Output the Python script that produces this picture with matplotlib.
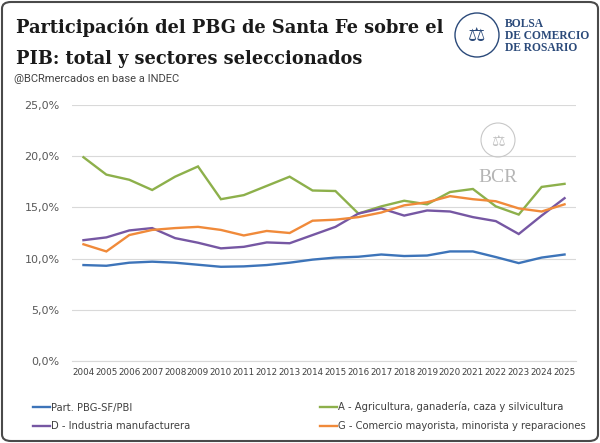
import numpy as np
import matplotlib.pyplot as plt
from matplotlib.patches import FancyBboxPatch, Circle
from matplotlib.ticker import FuncFormatter

years = [str(y) for y in range(2004, 2026)]

# participación en el PIB (%)
total = [9.37, 9.3, 9.6, 9.7, 9.6, 9.4, 9.2, 9.24, 9.37, 9.6, 9.9,
         10.1, 10.18, 10.4, 10.25, 10.3, 10.7, 10.7, 10.15, 9.56, 10.1, 10.4]
agro = [19.9, 18.2, 17.7, 16.7, 18.0, 19.0, 15.8, 16.2, 17.1, 18.0, 16.65,
        16.6, 14.4, 15.1, 15.65, 15.3, 16.5, 16.8, 15.1, 14.3, 17.0, 17.3]
industria = [11.8, 12.07, 12.75, 12.98, 12.0, 11.55, 11.0, 11.15, 11.58, 11.5, 12.3,
             13.1, 14.4, 14.9, 14.2, 14.7, 14.6, 14.05, 13.66, 12.4, 14.2, 15.9]
comercio = [11.4, 10.7, 12.3, 12.8, 12.98, 13.1, 12.8, 12.26, 12.7, 12.5, 13.7,
            13.8, 14.05, 14.5, 15.2, 15.5, 16.1, 15.8, 15.6, 14.9, 14.6, 15.3]

labels = ['Part. PBG-SF/PBI',
          'A - Agricultura, ganadería, caza y silvicultura',
          'D - Industria manufacturera',
          'G - Comercio mayorista, minorista y reparaciones']
colors = ['#3D74B9', '#8DB04B', '#7657A3', '#F08A3A']

fig = plt.figure(figsize=(6, 4.43), dpi=100)
W, H = 600, 443

def fx(px):
    return px / W

def fy(py):
    # pixel desde arriba -> coordenada de figura
    return 1 - py / H

# marco redondeado
fig.patches.append(FancyBboxPatch((fx(2), 2 / H), 1 - 4 / W, 1 - 4 / H,
                                  boxstyle='round,pad=0,rounding_size=0.015',
                                  transform=fig.transFigure, fc='white',
                                  ec='#4a4a4a', lw=1.5, zorder=-5))

fig.text(fx(16), fy(33), 'Participación del PBG de Santa Fe sobre el',
         family='DejaVu Serif', weight='bold', fontsize=12.8, color='#1a1a1a')
fig.text(fx(16), fy(64), 'PIB: total y sectores seleccionados',
         family='DejaVu Serif', weight='bold', fontsize=12.8, color='#1a1a1a')
fig.text(fx(14), fy(82), '@BCRmercados en base a INDEC',
         fontsize=8, color='#444444', family='Roboto')

ax = fig.add_axes([fx(72), fy(361), 504 / W, 256 / H])
x = np.arange(len(years))
for vals, lab, col in zip([total, agro, industria, comercio], labels, colors):
    ax.plot(x, vals, color=col, lw=1.7, label=lab, solid_joinstyle='miter')

ax.set_xlim(-0.5, len(years) - 0.5)
ax.set_ylim(0, 25)
ax.set_yticks(np.arange(0, 26, 5))
ax.yaxis.set_major_formatter(FuncFormatter(lambda v, p: f'{v:.1f}%'.replace('.', ',')))
ax.set_xticks(x)
ax.set_xticklabels(years)
ax.grid(axis='y', color='#d9d9d9', lw=0.8)
ax.set_axisbelow(True)
for s in ax.spines.values():
    s.set_visible(False)
ax.spines['bottom'].set_visible(True)
ax.spines['bottom'].set_color('#d9d9d9')
ax.tick_params(length=0)
ax.tick_params(axis='y', labelsize=8, colors='#595959', pad=9)
ax.tick_params(axis='x', labelsize=6.3, colors='#404040', pad=5)

# capa superior en pixeles para logo y marca de agua
ov = fig.add_axes([0, 0, 1, 1], zorder=5)
ov.set_xlim(0, W)
ov.set_ylim(H, 0)
ov.axis('off')
ov.patch.set_alpha(0)

navy = '#2B4A7A'
ov.add_patch(Circle((477, 35), 22, fc='white', ec=navy, lw=1.0))
ov.text(477, 36, '⚖', ha='center', va='center', fontsize=14, color=navy)
for i, t in enumerate(['BOLSA', 'DE COMERCIO', 'DE ROSARIO']):
    ov.text(505, 24 + i * 12, t, family='Liberation Serif', fontsize=8.3,
            color=navy, va='center', weight='bold')

ov.add_patch(Circle((498, 140), 17, fc='none', ec='#c8c8c8', lw=0.8))
ov.text(498, 141, '⚖', ha='center', va='center', fontsize=11, color='#c0c0c0')
ov.text(498, 177, 'BCR', ha='center', va='center', fontsize=14,
        family='Liberation Serif', color='#b5b5b5')

handles, labs = ax.get_legend_handles_labels()
order = [0, 2, 1, 3]
fig.legend([handles[i] for i in order], [labs[i] for i in order],
           loc='upper left', bbox_to_anchor=(fx(24), fy(393)), ncol=2,
           frameon=False, fontsize=7.2, handlelength=1.7, handletextpad=0.1,
           columnspacing=13.0, labelspacing=0.85, labelcolor='#404040')

fig.savefig('out.png', dpi=100)
